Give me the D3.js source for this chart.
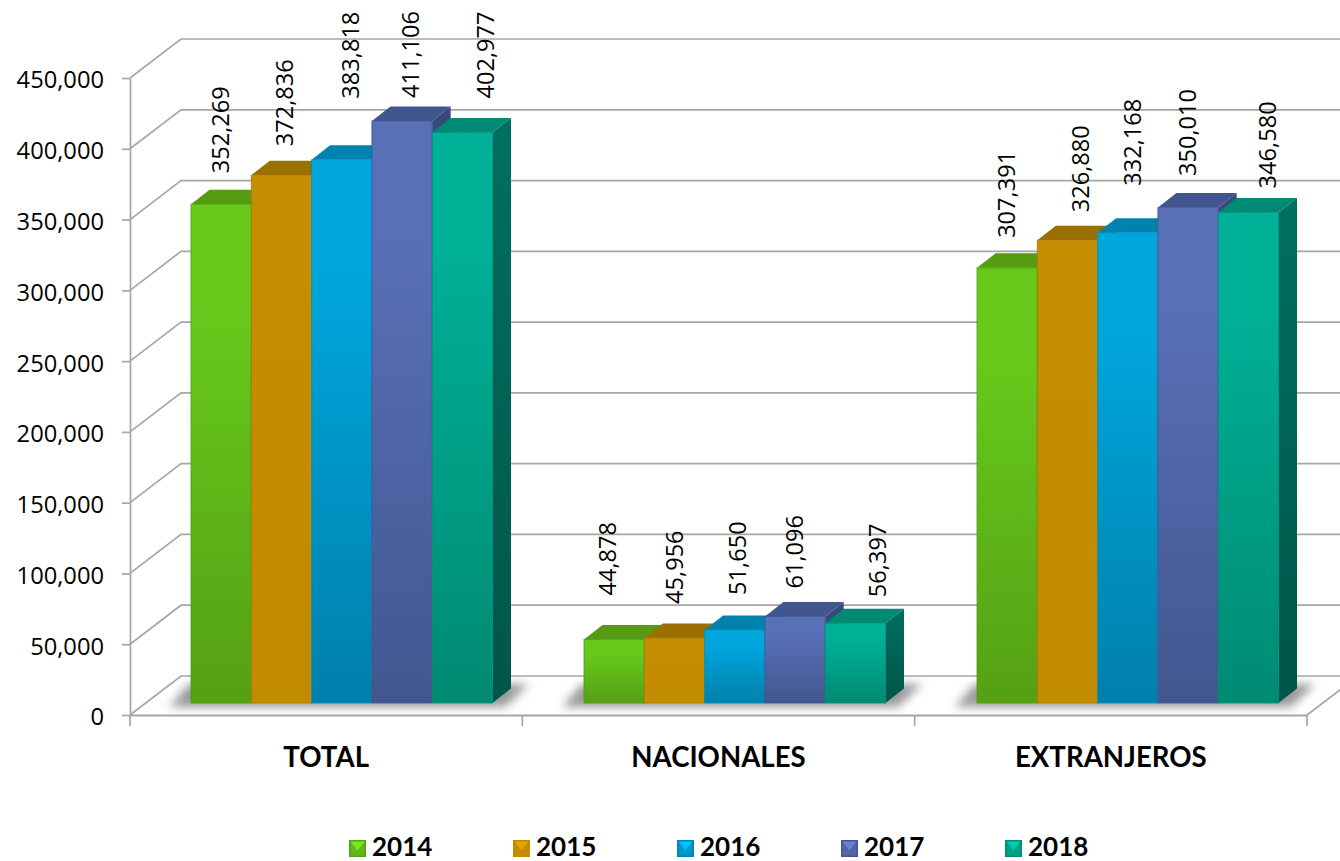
<!DOCTYPE html>
<html><head><meta charset="utf-8">
<script src="https://cdn.jsdelivr.net/npm/d3@7"></script>
<style>html,body{margin:0;padding:0;background:#fff}svg{display:block}</style>
</head><body><svg id="c" width="1340" height="861"></svg>
<script>
const categories = ["TOTAL","NACIONALES","EXTRANJEROS"];
const years = ["2014","2015","2016","2017","2018"];
const values2014 = [352269,44878,307391];
const values2015 = [372836,45956,326880];
const values2016 = [383818,51650,332168];
const values2017 = [411106,61096,350010];
const values2018 = [402977,56397,346580];
const seriesValues = [values2014,values2015,values2016,values2017,values2018];
const yTicks = d3.range(0,450001,50000);
// manual label nudges from the default spot, [dx,dy] per series then per category
const labelNudges = [
 [[0,-3],[-6,-16],[0,-2]],
 [[3,-1],[0,-6],[13,0]],
 [[8.5,-33],[3,-7],[5,-19]],
 [[9,5],[0,0],[0,-3.5]],
 [[23,-6],[22,2],[19,4]]
];
const faces = [
 {top:"#67ca1b",bot:"#55a014",lid:"#559c12",side:"#458a10",edge:"#4f9a14"},
 {top:"#c58d00",bot:"#c28b00",lid:"#9a7000",side:"#8a6400",edge:"#a87a08"},
 {top:"#00a6dd",bot:"#0080ab",lid:"#0082ae",side:"#006a8e",edge:"#0090bf"},
 {top:"#5870b8",bot:"#42568f",lid:"#41558f",side:"#384a7c",edge:"#3f5490"},
 {top:"#00b097",bot:"#008a72",lid:"#008a74",side:"#00705f",edge:"#00907a",sideBot:"#00554a"}
];
const svg = d3.select("#c");
const defs = svg.append("defs");
defs.append("filter").attr("id","blur").attr("x","-10%").attr("y","-60%").attr("width","120%").attr("height","220%")
  .append("feGaussianBlur").attr("stdDeviation",5);
faces.forEach((f,i)=>{
  const g=defs.append("linearGradient").attr("id","g"+i).attr("x1",0).attr("x2",0).attr("y1",0).attr("y2",1);
  g.append("stop").attr("offset",0).attr("stop-color",f.top);
  g.append("stop").attr("offset",0.2).attr("stop-color",f.top);
  g.append("stop").attr("offset",1).attr("stop-color",f.bot);
  const s=defs.append("linearGradient").attr("id","s"+i).attr("x1",0).attr("x2",0).attr("y1",0).attr("y2",1);
  s.append("stop").attr("offset",0).attr("stop-color",f.side);
  s.append("stop").attr("offset",1).attr("stop-color",f.sideBot||f.side);
});
const wallDX=51, wallDY=-39, depthX=18.5, depthY=-14.5;
const yAxisScale = d3.scaleLinear().domain([0,450000]).range([715,78]);
const yBar = d3.scaleLinear().domain([0,450000]).range([703,66]);
const xAxisScale = d3.scaleBand().domain(categories).range([130,1307]);
const xGroup = d3.scaleBand().domain(categories).range([191,191+393*3]);
const xBar = d3.scaleBand().domain(years).range([0,301.5]);
const grid="#a6a6a6";
const gridG=svg.append("g").attr("fill","none").attr("stroke",grid).attr("stroke-width",1.7);
yTicks.forEach(t=>{
  const y=yAxisScale(t);
  gridG.append("path").attr("d",d3.line()([[130,y],[130+wallDX,y+wallDY],[1340,y+wallDY]]));
});
gridG.append("path").attr("d",d3.line()([[1307,715],[1340,690]]));
// shadows
categories.forEach(c=>{
  const x0=xGroup(c);
  svg.append("path").attr("d",d3.line()([[x0-22,707],[x0-2,684],[x0+338,684],[x0+314,707]]))
   .attr("fill","#9a9a9a").attr("filter","url(#blur)");
});
// bars
const barG=svg.append("g");
categories.forEach((c,ci)=>{
  years.forEach((yr,si)=>{
    const v=seriesValues[si][ci], x=xGroup(c)+xBar(yr), w=xBar.bandwidth(), y=yBar(v), b=yBar(0);
    const g=barG.append("g");
    g.append("path").attr("d",d3.line()([[x,y],[x+depthX,y+depthY],[x+w+depthX,y+depthY],[x+w,y]])).attr("fill",faces[si].lid);
    g.append("path").attr("d",d3.line()([[x+w,y],[x+w+depthX,y+depthY],[x+w+depthX,b+depthY],[x+w,b]])).attr("fill","url(#s"+si+")");
    g.append("rect").attr("x",x).attr("y",y).attr("width",w).attr("height",b-y).attr("fill","url(#g"+si+")")
      .attr("stroke",faces[si].edge).attr("stroke-opacity",0.8).attr("stroke-width",1);
  });
});
// value labels
const fmt=d3.format(",");
const labelFont="'Open Sans'", boldFont="Lato";
categories.forEach((c,ci)=>{
  years.forEach((yr,si)=>{
    const v=seriesValues[si][ci], n=labelNudges[si][ci];
    const x=xGroup(c)+xBar(yr)+xBar.bandwidth()/2+n[0], y=yBar(v)-28+n[1];
    svg.append("text").attr("transform",`translate(${x},${y}) rotate(-90)`)
      .attr("dy","0.35em").attr("font-family",labelFont).attr("font-size",23.6).attr("fill","#000").text(fmt(v));
  });
});
// axes
const yG=svg.append("g").attr("transform","translate(130,0)")
  .call(d3.axisLeft(yAxisScale).tickValues(yTicks).tickFormat(fmt).tickSize(8).tickSizeOuter(0).tickPadding(18));
yG.selectAll("text").attr("dy","0.42em").attr("font-family",labelFont).attr("font-size",23.7).attr("fill","#000");
yG.selectAll("line").attr("stroke",grid).attr("stroke-width",1.7);
yG.select(".domain").attr("stroke",grid).attr("stroke-width",1.7);
const xG=svg.append("g").attr("transform","translate(0,715)")
  .call(d3.axisBottom(xAxisScale).tickSize(0).tickPadding(32));
xG.selectAll("text").attr("font-family",boldFont).attr("font-weight",700).attr("font-size",27.6).attr("fill","#000");
xG.select(".domain").attr("stroke",grid).attr("stroke-width",2);
xAxisScale.domain().concat(["end"]).forEach((c,i)=>{
  const x=i<3?xAxisScale(c):xAxisScale.range()[1];
  xG.append("line").attr("x1",x).attr("x2",x).attr("y1",0).attr("y2",11).attr("stroke",grid).attr("stroke-width",1.7);
});
// legend
const xLegend=d3.scalePoint().domain(years).range([349,1005]);
years.forEach((yr,i)=>{
  const x=xLegend(yr), g=svg.append("g").attr("transform",`translate(${x},840)`), s=17, f=faces[i];
  g.append("rect").attr("width",s).attr("height",s).attr("fill",f.bot);
  g.append("rect").attr("x",1.5).attr("y",1.5).attr("width",s-3).attr("height",s-3).attr("fill",d3.interpolateRgb(f.top,f.bot)(0.4));
  g.append("path").attr("d",d3.line()([[1.5,1.5],[s-1.5,1.5],[s/2,s*0.62]])).attr("fill",d3.color(f.top).brighter(0.4));
  g.append("text").attr("x",23).attr("y",15.5).attr("font-family",boldFont).attr("font-weight",700).attr("font-size",26).attr("fill","#000").text(yr);
});
</script></body></html>
